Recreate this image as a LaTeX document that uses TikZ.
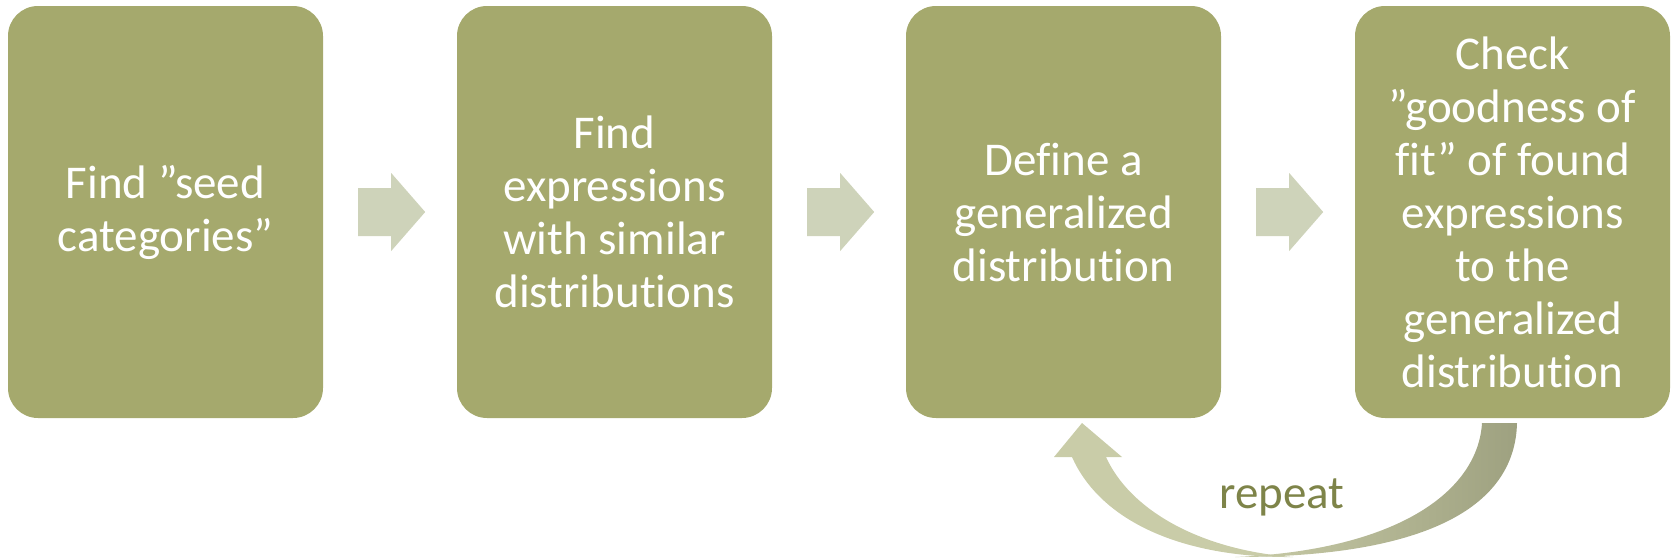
\documentclass[tikz,border=0pt]{standalone}
\usepackage{fontspec}
\setmainfont{Carlito}[Ligatures=NoCommon]
\usetikzlibrary{calc}
\definecolor{boxgreen}{HTML}{A5A96D}
\definecolor{chevcol}{HTML}{CED3BA}
\definecolor{curvelight}{HTML}{C9CCA8}
\definecolor{curvedark}{HTML}{9EA180}
\definecolor{repeatcol}{HTML}{7E8449}
\tikzset{
  stepbox/.style={fill=boxgreen, rounded corners=30pt, minimum width=315pt, minimum height=412pt,
    inner sep=0pt, align=center, text=white, font=\fontsize{47}{53}\selectfont},
  chev/.style={fill=chevcol},
}
\begin{document}
\begin{tikzpicture}[x=1pt,y=-1pt]
\useasboundingbox (0,0) rectangle (1674,558);
\node[stepbox] (b1) at (165.5,212) {Find ”seed\\categories”};
\node[stepbox] (b2) at (614.5,212) {Find\\expressions\\with similar\\distributions};
\node[stepbox] (b3) at (1063.5,212) {Define a\\generalized\\distribution};
\node[stepbox] (b4) at (1512.5,212) {Check\\”goodness of\\fit” of found\\expressions\\to the\\generalized\\distribution};
\foreach \a in {b1,b2,b3} {
  \fill[chev] ($(\a.east)+(35,-24)$) -- ($(\a.east)+(68,-24)$) -- ($(\a.east)+(68,-39)$)
    -- ($(\a.east)+(102,0)$) -- ($(\a.east)+(68,39)$) -- ($(\a.east)+(68,24)$)
    -- ($(\a.east)+(35,24)$) -- cycle;
}
% curved repeat arrow
\fill[curvelight] (1082,423) -- (1122,457) -- (1106,457)
  .. controls (1130,510) and (1200,550) .. (1293,557)
  .. controls (1180,558) and (1100,520) .. (1072,457)
  -- (1054,457) -- cycle;
\shade[left color=curvelight, right color=curvedark] (1517,423)
  .. controls (1515,510) and (1420,557) .. (1235,557)
  .. controls (1400,550) and (1478,490) .. (1482,423) -- cycle;
\node[text=repeatcol, font=\fontsize{47}{53}\selectfont, anchor=base] (rep) at (1282,508) {repeat};
\end{tikzpicture}
\end{document}
